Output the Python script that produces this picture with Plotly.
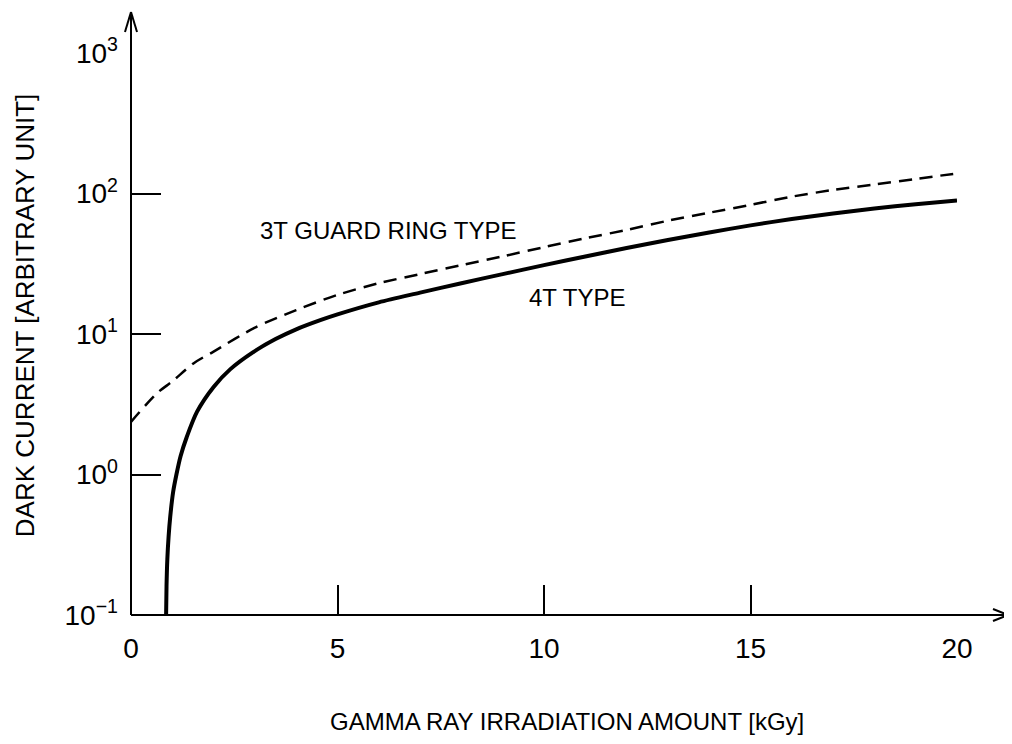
import plotly.graph_objects as go

# 4T type (solid)
x_4t = [0.85, 0.86, 0.88, 0.91, 0.95, 1.02, 1.1, 1.2, 1.35, 1.6, 2.0, 2.4, 2.95, 3.5, 4.0, 4.6,
        5.0, 6.0, 7.0, 8.0, 9.0, 10, 11, 12, 13, 14, 15, 16, 17, 18, 19, 20]
y_4t = [0.1, 0.16, 0.25, 0.36, 0.5, 0.75, 1.0, 1.35, 1.85, 2.8, 4.2, 5.6, 7.4, 9.2, 10.8, 12.6,
        13.8, 16.8, 19.7, 23.0, 26.7, 30.9, 35.6, 40.9, 46.7, 52.8, 59.3, 65.8, 72.1, 78.2, 83.9, 89.3]

# 3T guard ring type (dashed)
x_3t = [0, 0.62, 1, 1.52, 2, 3, 4, 5, 6, 7, 8, 9, 10, 11, 12, 13, 14, 15, 16, 17, 18, 19, 20]
y_3t = [2.37, 3.77, 4.6, 6.2, 7.5, 11.1, 14.8, 19, 23, 26.7, 30.9, 35.7, 41.5, 48, 55, 64, 73,
        83, 95, 106, 116, 127, 139]

x_tickvals = [0, 5, 10, 15, 20]
x_ticktext = ["0", "5", "10", "15", "20"]
y_tickvals = [0.1, 1, 10, 100, 1000]
y_ticktext = ["10<sup>\u22121</sup>", "10<sup>0</sup>", "10<sup>1</sup>", "10<sup>2</sup>", "10<sup>3</sup>"]

FONT = "Liberation Sans Narrow, Liberation Sans, Arial, sans-serif"

fig = go.Figure()
fig.add_trace(go.Scatter(x=x_3t, y=y_3t, mode="lines",
                         line=dict(color="black", width=2.5, dash="13px,8px",
                                   shape="spline", smoothing=0.8),
                         showlegend=False, hoverinfo="skip"))
fig.add_trace(go.Scatter(x=x_4t, y=y_4t, mode="lines",
                         line=dict(color="black", width=4, shape="spline", smoothing=0.8),
                         showlegend=False, hoverinfo="skip"))

# page body has an 8px margin, so the figure is 8px smaller and margins shifted
fig.update_layout(
    width=1004, height=736,
    margin=dict(l=123, r=55, t=45, b=129),
    paper_bgcolor="white", plot_bgcolor="white",
    font=dict(family=FONT, color="black"),
    xaxis=dict(range=[0, 20], showgrid=False, zeroline=False, showline=False,
               tickvals=x_tickvals, ticktext=x_ticktext, ticks="inside", ticklen=30,
               tickwidth=1.5, tickcolor="black", tickfont=dict(size=28, family=FONT),
               ticklabelstandoff=14),
    yaxis=dict(type="log", range=[-1, 3], showgrid=False, zeroline=False, showline=False,
               tickvals=y_tickvals, ticktext=y_ticktext, ticks="inside", ticklen=30,
               tickwidth=1.5, tickcolor="black", tickfont=dict(size=28, family=FONT),
               ticklabelstandoff=12),
)

# axis lines with open arrowheads
line_style = dict(color="black", width=2)
shapes = [
    dict(type="line", xref="paper", yref="paper", x0=0, y0=0, x1=1.0617, y1=0, line=line_style),
    dict(type="line", xref="paper", yref="paper", x0=1.0436, y0=0.0107, x1=1.0617, y1=0, line=line_style),
    dict(type="line", xref="paper", yref="paper", x0=1.0436, y0=-0.0107, x1=1.0617, y1=0, line=line_style),
    dict(type="line", xref="paper", yref="paper", x0=0, y0=0, x1=0, y1=1.073, line=line_style),
    dict(type="line", xref="paper", yref="paper", x0=-0.0073, y0=1.0374, x1=0, y1=1.073, line=line_style),
    dict(type="line", xref="paper", yref="paper", x0=0.0073, y0=1.0374, x1=0, y1=1.073, line=line_style),
]
fig.update_layout(shapes=shapes)

fig.add_annotation(text="3T GUARD RING TYPE", x=3.08, y=1.74, xref="x", yref="y",
                   xanchor="left", yanchor="middle", showarrow=False,
                   font=dict(size=24, family=FONT))
fig.add_annotation(text="4T TYPE", x=9.59, y=1.26, xref="x", yref="y",
                   xanchor="left", yanchor="middle", showarrow=False,
                   font=dict(size=24, family=FONT))
fig.add_annotation(text="GAMMA RAY IRRADIATION AMOUNT [kGy]", x=0.528, y=-0.19,
                   xref="paper", yref="paper", xanchor="center", yanchor="middle",
                   showarrow=False, font=dict(size=24, family=FONT))
fig.add_annotation(text="DARK CURRENT [ARBITRARY UNIT]", x=-0.128, y=0.534,
                   xref="paper", yref="paper", xanchor="center", yanchor="middle",
                   textangle=-90, showarrow=False, font=dict(size=26, family=FONT))

fig.write_html("out.html")
